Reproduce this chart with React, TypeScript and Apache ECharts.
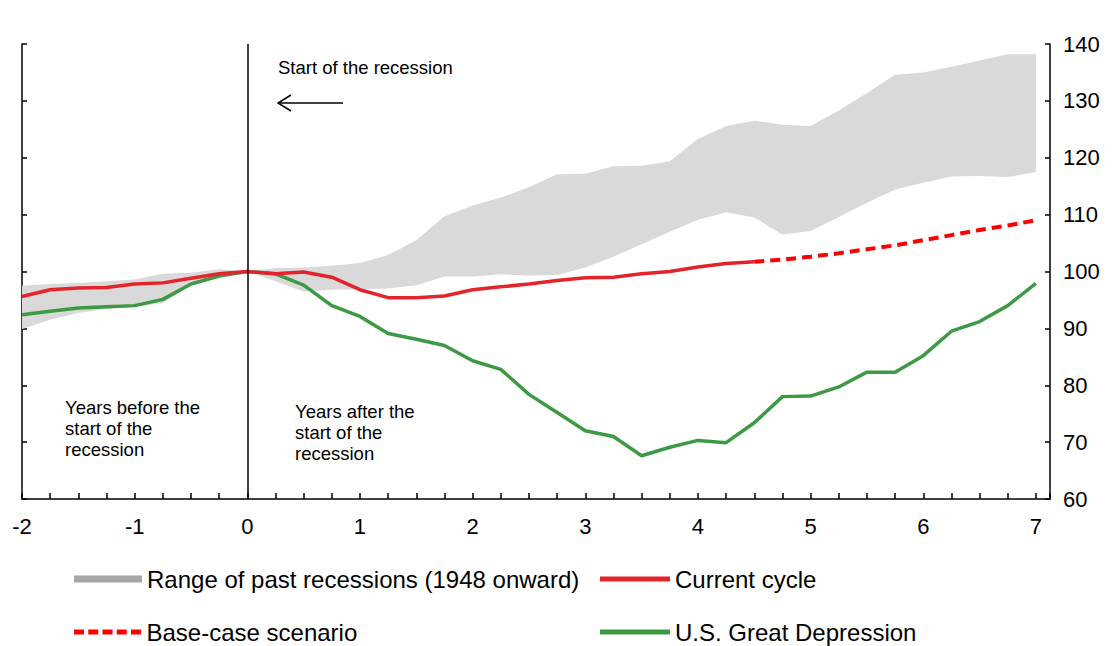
import React, { useEffect, useRef } from "react";
import * as echarts from "echarts";

// Years relative to the start of the recession (quarterly)
const yearOffsets = [
  -2, -1.75, -1.5, -1.25, -1, -0.75, -0.5, -0.25,
  0, 0.25, 0.5, 0.75, 1, 1.25, 1.5, 1.75,
  2, 2.25, 2.5, 2.75, 3, 3.25, 3.5, 3.75,
  4, 4.25, 4.5, 4.75, 5, 5.25, 5.5, 5.75,
  6, 6.25, 6.5, 6.75, 7,
];

// Range of past recessions (1948 onward): lower and upper bounds
const rangeLower = [
  89.9, 91.5, 92.7, 93.4, 93.8, 94.4, 97.6, 99.6,
  100, 98.3, 96.5, 96.8, 96.9, 97.0, 97.6, 99.1,
  99.1, 99.5, 99.3, 99.4, 100.7, 102.6, 104.8, 107.0,
  109.1, 110.4, 109.5, 106.5, 107.1, 109.6, 112.1, 114.4,
  115.6, 116.7, 116.8, 116.6, 117.5,
];
const rangeUpper = [
  97.5, 97.8, 98.0, 98.3, 98.6, 99.6, 99.8, 100.4,
  100, 100.6, 100.7, 101.0, 101.5, 102.9, 105.5, 109.7,
  111.6, 113.0, 114.8, 117.1, 117.2, 118.5, 118.6, 119.4,
  123.3, 125.6, 126.5, 125.8, 125.6, 128.3, 131.4, 134.6,
  135.0, 136.0, 137.1, 138.2, 138.2,
];

// Current cycle (actual), from -2 to 4.5 years
const currentCycle = [
  95.6, 96.8, 97.1, 97.2, 97.8, 98.0, 98.8, 99.6,
  100, 99.6, 99.9, 99.0, 96.8, 95.4, 95.4, 95.7,
  96.8, 97.3, 97.8, 98.4, 98.9, 99.0, 99.6, 100.0,
  100.8, 101.4, 101.7,
];

// Base-case scenario, from 4.5 to 7 years
const baseCase = [
  101.7, 102.1, 102.6, 103.2, 103.9, 104.6, 105.5, 106.4,
  107.3, 108.1, 109.0,
];

// U.S. Great Depression
const greatDepression = [
  92.4, 93.0, 93.6, 93.8, 94.0, 95.1, 97.8, 99.2,
  100, 99.6, 97.6, 94.0, 92.1, 89.1, 88.1, 87.0,
  84.3, 82.8, 78.4, 75.2, 72.0, 71.0, 67.6, 69.1,
  70.3, 69.9, 73.4, 78.0, 78.1, 79.7, 82.3, 82.3,
  85.2, 89.5, 91.2, 94.0, 97.9,
];

const yTicks = { min: 60, max: 140, interval: 10 };
const xRange = { min: -2, max: 7.125, interval: 0.25 };

const legendNames = {
  range: "Range of past recessions (1948 onward)",
  current: "Current cycle",
  base: "Base-case scenario",
  depression: "U.S. Great Depression",
};

const FONT = "'Liberation Sans', Arial, sans-serif";
const RED = "#e3242b";
const RED_DASH = "#ff0000";
const GREEN = "#3d9a44";
const BAND = "#d9d9d9";
const BAND_LEGEND = "#a6a6a6";

const dashIcon =
  "path://M0,0h10v5h-10z M14.25,0h10v5h-10z M28.5,0h10v5h-10z M42.75,0h10v5h-10z M57,0h10v5h-10z";

export default function App() {
  const ref = useRef<HTMLDivElement>(null);

  useEffect(() => {
    document.body.style.margin = "0";
    if (!ref.current) return;
    const chart = echarts.init(ref.current, null, { renderer: "svg" });

    const bandData = yearOffsets.map((x, i) => [x, rangeLower[i], rangeUpper[i]]);
    const currentData = currentCycle.map((v, i) => [yearOffsets[i], v]);
    const baseStart = currentCycle.length - 1;
    const baseData = baseCase.map((v, i) => [yearOffsets[baseStart + i], v]);
    const depData = greatDepression.map((v, i) => [yearOffsets[i], v]);

    const legendBase = {
      orient: "horizontal",
      padding: 0,
      itemGap: 0,
      textStyle: { fontSize: 24, color: "#000", fontFamily: FONT },
      selectedMode: false,
    };

    const axisLineStyle = { color: "#000", width: 1.5 };

    chart.setOption({
      animation: false,
      textStyle: { fontFamily: FONT },
      grid: { left: 22, right: 69, top: 44, bottom: 147, containLabel: false },
      xAxis: {
        type: "value",
        min: xRange.min,
        max: xRange.max,
        interval: xRange.interval,
        axisLine: { show: true, onZero: false, lineStyle: axisLineStyle },
        axisTick: { show: true, inside: true, length: 6, lineStyle: { color: "#000", width: 1.5 } },
        axisLabel: {
          fontSize: 22,
          color: "#000",
          margin: 16,
          fontFamily: FONT,
          formatter: (v: number) => (Number.isInteger(v) ? String(v) : ""),
        },
        splitLine: { show: false },
      },
      yAxis: [
        {
          type: "value",
          position: "right",
          min: yTicks.min,
          max: yTicks.max,
          interval: yTicks.interval,
          axisLine: { show: true, onZero: false, lineStyle: axisLineStyle },
          axisTick: { show: true, inside: true, length: 5, lineStyle: { color: "#000", width: 1.5 } },
          axisLabel: { fontSize: 22, color: "#000", margin: 13, fontFamily: FONT },
          splitLine: { show: false },
        },
        {
          type: "value",
          position: "left",
          min: yTicks.min,
          max: yTicks.max,
          interval: yTicks.interval,
          axisLine: { show: true, onZero: false, lineStyle: axisLineStyle },
          axisTick: { show: true, inside: true, length: 5, lineStyle: { color: "#000", width: 1.5 } },
          axisLabel: { show: false },
          splitLine: { show: false },
        },
      ],
      legend: [
        {
          ...legendBase,
          left: 74,
          top: 567,
          data: [{ name: legendNames.range, icon: "rect" }],
          itemWidth: 68,
          itemHeight: 7,
        },
        {
          ...legendBase,
          left: 600,
          top: 567,
          data: [{ name: legendNames.current, icon: "rect" }],
          itemWidth: 70,
          itemHeight: 5,
        },
        {
          ...legendBase,
          left: 74,
          top: 620,
          data: [{ name: legendNames.base, icon: dashIcon }],
          itemWidth: 68,
          itemHeight: 5,
        },
        {
          ...legendBase,
          left: 600,
          top: 620,
          data: [{ name: legendNames.depression, icon: "rect" }],
          itemWidth: 70,
          itemHeight: 5,
        },
      ],
      series: [
        {
          type: "custom",
          name: legendNames.range,
          data: bandData,
          silent: true,
          z: 1,
          itemStyle: { color: BAND_LEGEND },
          encode: { x: 0, y: [1, 2] },
          renderItem: (params: any, api: any) => {
            if (params.dataIndex !== 0) return null;
            const upper = bandData.map((d) => api.coord([d[0], d[2]]));
            const lower = bandData.map((d) => api.coord([d[0], d[1]])).reverse();
            return {
              type: "polygon",
              shape: { points: upper.concat(lower) },
              style: { fill: BAND, stroke: "none" },
            };
          },
        },
        {
          type: "line",
          name: legendNames.depression,
          data: depData,
          symbol: "none",
          itemStyle: { color: GREEN },
          lineStyle: { color: GREEN, width: 3.5 },
          z: 3,
          markLine: {
            silent: true,
            symbol: ["none", "none"],
            label: { show: false },
            lineStyle: { color: "#000", width: 1.5, type: "solid" },
            data: [{ xAxis: 0 }],
          },
        },
        {
          type: "line",
          name: legendNames.current,
          data: currentData,
          symbol: "none",
          itemStyle: { color: RED },
          lineStyle: { color: RED, width: 3.5 },
          z: 4,
        },
        {
          type: "line",
          name: legendNames.base,
          data: baseData,
          symbol: "none",
          itemStyle: { color: RED_DASH },
          lineStyle: { color: RED_DASH, width: 4, type: [10, 6] },
          z: 4,
        },
      ],
      graphic: [
        {
          type: "text",
          left: 278,
          top: 58,
          style: { text: "Start of the recession", fontSize: 18.5, fill: "#000", fontFamily: FONT },
        },
        {
          type: "line",
          shape: { x1: 343, y1: 103, x2: 278, y2: 103 },
          style: { stroke: "#000", lineWidth: 1.5 },
        },
        {
          type: "polyline",
          shape: { points: [[291, 95], [278, 103], [291, 111]] },
          style: { stroke: "#000", lineWidth: 1.5, fill: "none" },
        },
        {
          type: "text",
          left: 65,
          top: 397,
          style: {
            text: "Years before the\nstart of the\nrecession",
            fontSize: 18.5,
            lineHeight: 21,
            fill: "#000",
            fontFamily: FONT,
          },
        },
        {
          type: "text",
          left: 295,
          top: 401,
          style: {
            text: "Years after the\nstart of the\nrecession",
            fontSize: 18.5,
            lineHeight: 21,
            fill: "#000",
            fontFamily: FONT,
          },
        },
      ],
    });

    return () => chart.dispose();
  }, []);

  return <div ref={ref} style={{ width: 1119, height: 646 }} />;
}
